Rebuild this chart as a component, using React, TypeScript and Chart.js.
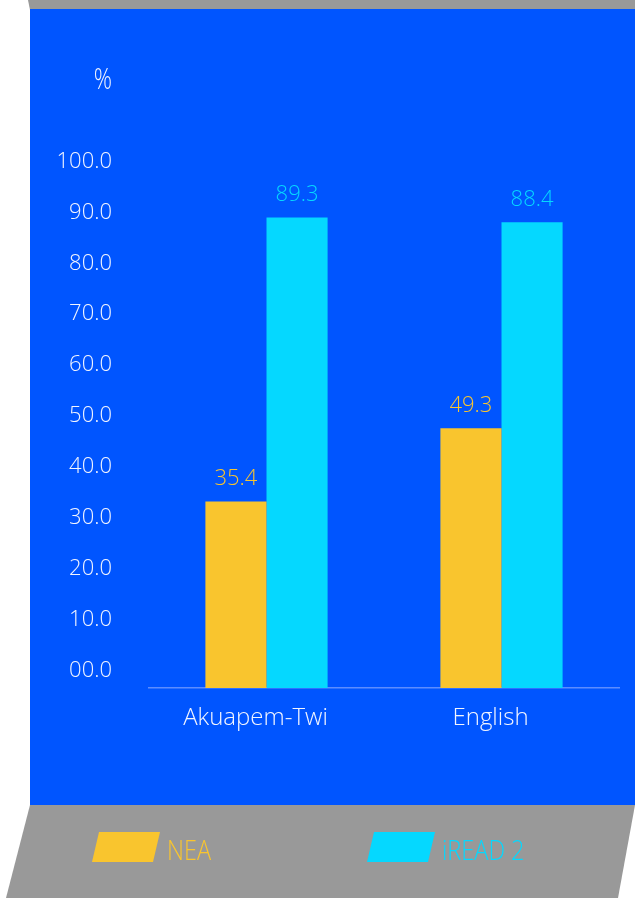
import { useEffect, useRef } from 'react';
import { Chart, registerables } from 'chart.js';

Chart.register(...registerables);

// ---- data ----
const categories = ['Akuapem-Twi', 'English'];
const seriesNames = ['NEA', 'iREAD 2'];
const neaValues = [35.4, 49.3];
const ireadValues = [89.3, 88.4];
const tickValues = [0, 10, 20, 30, 40, 50, 60, 70, 80, 90, 100];
const tickLabels = ['00.0', '10.0', '20.0', '30.0', '40.0', '50.0', '60.0', '70.0', '80.0', '90.0', '100.0'];
const unitLabel = '%';

// ---- look ----
const W = 635;
const H = 898;
const BLUE = '#0055FF';
const GRAY = '#999999';
const YELLOW = '#F9C52E';
const CYAN = '#05D8FF';
const TEXT = '#F2F5FF';
const AXIS_LINE = '#5C8DFF';
const FONT = '"Open Sans", "Noto Sans", sans-serif';

function poly(ctx: CanvasRenderingContext2D, pts: number[][]) {
  ctx.beginPath();
  pts.forEach(([x, y], i) => (i ? ctx.lineTo(x, y) : ctx.moveTo(x, y)));
  ctx.closePath();
  ctx.fill();
}

// Blue panel with the slanted grey bands above and below it
const panelPlugin = {
  id: 'panel',
  beforeDraw(chart: Chart) {
    const ctx = chart.ctx;
    ctx.save();
    ctx.fillStyle = '#FFFFFF';
    ctx.fillRect(0, 0, W, H);
    ctx.fillStyle = GRAY;
    poly(ctx, [[28, 0], [W, 0], [W, 10], [30, 10]]);
    ctx.fillStyle = BLUE;
    ctx.fillRect(30, 9, W - 30, 796);
    ctx.fillStyle = GRAY;
    poly(ctx, [[30, 805], [W, 805], [618, H], [6, H]]);
    ctx.restore();
  },
};

// Value labels above bars, unit mark and the legend on the lower band
const overlayPlugin = {
  id: 'overlay',
  afterDatasetsDraw(chart: Chart) {
    const ctx = chart.ctx;
    ctx.save();
    ctx.font = `300 22px ${FONT}`;
    ctx.textAlign = 'center';
    ctx.textBaseline = 'alphabetic';
    chart.data.datasets.forEach((ds: any, di: number) => {
      const meta = chart.getDatasetMeta(di);
      meta.data.forEach((bar: any, i: number) => {
        ctx.fillStyle = ds.backgroundColor;
        ctx.fillText(Number(ds.data[i]).toFixed(1), bar.x, bar.y - 16);
      });
    });
    ctx.restore();
  },
  afterDraw(chart: Chart) {
    const ctx = chart.ctx;
    ctx.save();
    // unit
    ctx.fillStyle = TEXT;
    ctx.font = `300 29px ${FONT}`;
    ctx.textAlign = 'right';
    ctx.textBaseline = 'alphabetic';
    ctx.save();
    ctx.translate(112, 89);
    ctx.scale(0.78, 1);
    ctx.fillText(unitLabel, 0, 0);
    ctx.restore();

    // legend
    const starts = [92, 367];
    chart.data.datasets.forEach((ds: any, di: number) => {
      const x = starts[di];
      ctx.fillStyle = ds.backgroundColor;
      poly(ctx, [[x + 7, 832], [x + 68, 832], [x + 61, 862], [x, 862]]);
      ctx.save();
      ctx.translate(x + 75, 860);
      ctx.scale(0.84, 1);
      ctx.font = `300 28px ${FONT}`;
      ctx.textAlign = 'left';
      ctx.fillText(ds.label, 0, 0);
      ctx.restore();
    });
    ctx.restore();
  },
};

export default function App() {
  const ref = useRef<HTMLCanvasElement>(null);

  useEffect(() => {
    const canvas = ref.current;
    if (!canvas) return;
    const chart = new Chart(canvas, {
      type: 'bar',
      data: {
        labels: categories,
        datasets: [
          {
            label: seriesNames[0],
            data: neaValues,
            backgroundColor: YELLOW,
            yAxisID: 'y',
            barPercentage: 1,
            categoryPercentage: 0.52,
          },
          {
            label: seriesNames[1],
            data: ireadValues,
            backgroundColor: CYAN,
            yAxisID: 'y',
            barPercentage: 1,
            categoryPercentage: 0.52,
          },
        ],
      },
      options: {
        animation: false,
        responsive: false,
        devicePixelRatio: 1,
        layout: { padding: { left: 30, right: 16, top: 100, bottom: 0 } },
        plugins: {
          legend: { display: false },
          tooltip: { enabled: false },
        },
        scales: {
          x: {
            afterFit: (axis: any) => {
              axis.height = 210;
            },
            grid: { display: true, color: 'transparent', drawTicks: false },
            border: { display: true, color: AXIS_LINE, width: 1.5 },
            ticks: {
              padding: 16,
              labelOffset: -11,
              color: TEXT,
              font: { family: FONT, size: 24, weight: '300' },
            },
          },
          // value axis of the bars
          y: {
            display: false,
            min: 0,
            max: 111.6,
          },
          // labelled scale on the left
          yLab: {
            position: 'left',
            min: -3.44,
            max: 112.08,
            afterBuildTicks: (axis: any) => {
              axis.ticks = tickValues.map((v) => ({ value: v }));
            },
            afterFit: (axis: any) => {
              axis.width = 119;
            },
            grid: { display: false, drawTicks: false },
            border: { display: false },
            ticks: {
              padding: 37,
              color: TEXT,
              font: { family: FONT, size: 22, weight: '300' },
              callback: (_v: any, i: number) => tickLabels[i],
            },
          },
        },
      },
      plugins: [panelPlugin, overlayPlugin],
    } as any);
    return () => chart.destroy();
  }, []);

  return (
    <div style={{ position: 'absolute', left: 0, top: 0, width: W, height: H }}>
      <canvas ref={ref} width={W} height={H} style={{ display: 'block' }} />
    </div>
  );
}
